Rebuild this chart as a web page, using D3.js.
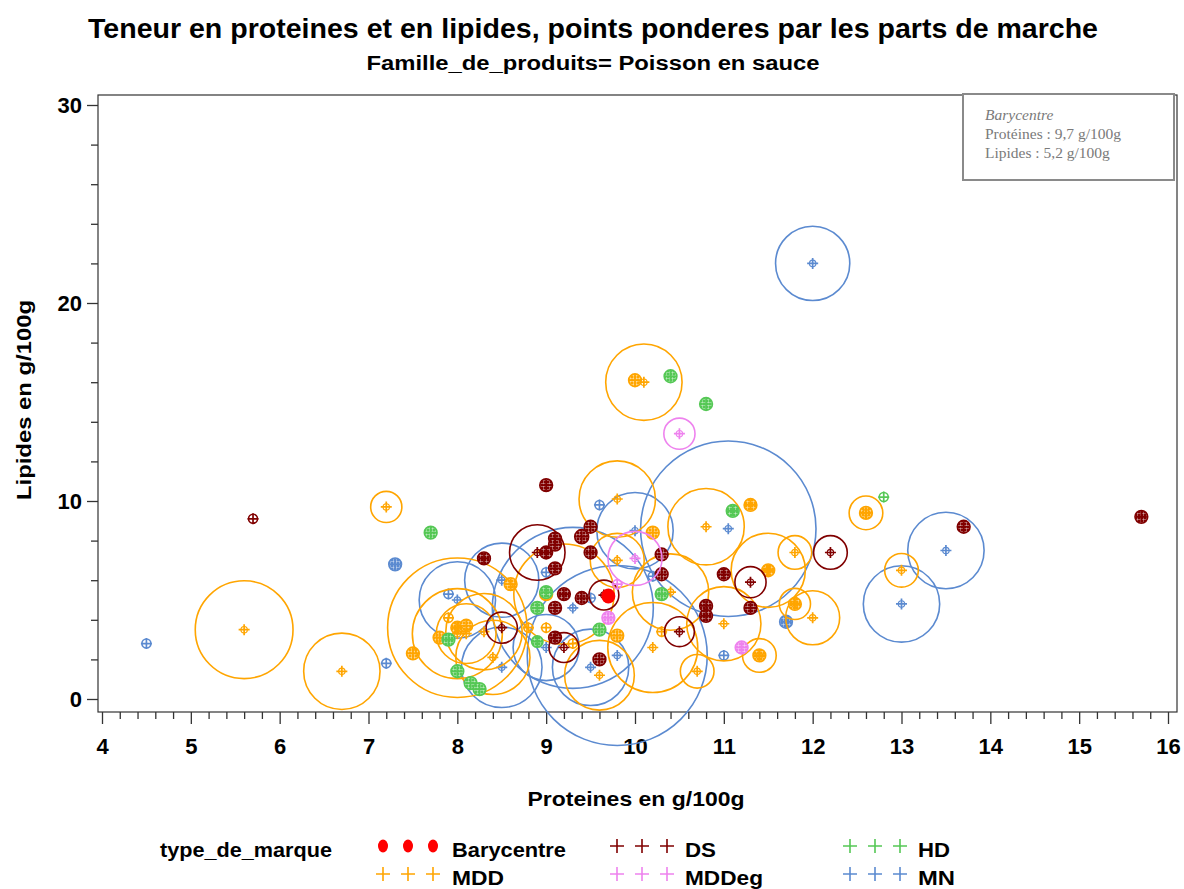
<!DOCTYPE html>
<html>
<head>
<meta charset="utf-8">
<script src="https://cdn.jsdelivr.net/npm/d3@7"></script>
<style>
  body { margin: 0; background: #fff; }
  svg { display: block; }
  text { font-family: "Liberation Sans", Arial, sans-serif; }
</style>
</head>
<body>
<svg id="chart" width="1184" height="889"></svg>
<script>
// Each point: [protéines g/100g, lipides g/100g, part de marché %]
const ptsMN = [
  [4.5, 2.8, 0.04], [7.2, 1.8, 0.04], [7.3, 6.8, 0.1], [12.0, 22.0, 3.4],
  [11.05, 8.6, 19], [13.5, 7.5, 3.6], [13.0, 4.8, 3.6], [11.7, 3.9, 0.1],
  [11.0, 2.2, 0.04], [9.6, 9.8, 0.04], [10.0, 8.5, 3.6], [10.2, 6.2, 0.04],
  [8.5, 6.0, 3.4], [9.0, 6.4, 0.04], [7.9, 5.3, 0.04], [8.0, 5.0, 3.6],
  [9.5, 5.1, 0.04], [9.3, 4.6, 16], [9.0, 2.6, 2.7], [9.8, 2.2, 20],
  [9.5, 1.6, 3.6], [8.5, 1.6, 4.0]
];
const ptsMDD = [
  [5.6, 3.5, 5.9], [6.7, 1.4, 3.6], [7.2, 9.7, 0.6], [7.5, 2.3, 0.1],
  [10.0, 16.1, 0.1], [10.1, 16.0, 3.6], [12.6, 9.4, 0.1], [12.6, 9.4, 0.7],
  [13.0, 6.5, 0.7], [12.0, 4.1, 1.8], [11.8, 4.8, 0.1], [11.8, 4.8, 0.6],
  [11.8, 7.4, 0.7], [11.5, 6.5, 0.1], [11.5, 6.5, 3.4], [11.3, 9.8, 0.1],
  [10.8, 8.7, 3.6], [11.0, 3.8, 3.4], [11.4, 2.2, 0.1], [11.4, 2.2, 0.7],
  [10.7, 1.4, 0.7], [9.8, 10.1, 3.6], [10.2, 8.4, 0.1], [9.8, 7.0, 1.8],
  [10.4, 5.4, 3.6], [8.6, 5.8, 0.1], [9.2, 5.3, 6.2], [9.0, 5.3, 0.1],
  [7.9, 4.1, 0.04], [8.0, 3.6, 12], [8.0, 3.6, 0.1], [8.1, 3.7, 0.1],
  [7.8, 3.1, 0.1], [8.0, 3.3, 5.0], [8.1, 3.3, 2.2], [8.8, 3.6, 0.04],
  [9.0, 3.6, 0.04], [9.3, 2.8, 0.04], [9.8, 3.2, 0.1], [10.3, 3.4, 0.04],
  [10.2, 2.6, 5.0], [8.4, 2.1, 3.4], [9.6, 1.2, 3.0], [8.3, 3.4, 3.6]
];
const ptsDS = [
  [5.7, 9.1, 0.04], [9.0, 10.8, 0.1], [9.4, 8.2, 0.12], [9.5, 8.7, 0.1],
  [8.9, 7.4, 1.9], [9.0, 7.4, 0.1], [9.1, 8.1, 0.1], [9.1, 7.8, 0.1],
  [9.1, 6.6, 0.1], [8.3, 7.1, 0.1], [9.5, 7.4, 0.1], [10.3, 7.3, 0.1],
  [10.3, 6.3, 0.1], [9.65, 5.25, 0.55], [9.4, 5.1, 0.1], [9.2, 5.3, 0.1],
  [9.1, 4.6, 0.1], [8.5, 3.6, 0.6], [9.1, 3.1, 0.1], [9.2, 2.6, 0.55],
  [9.6, 2.0, 0.1], [10.5, 3.4, 0.55], [10.8, 4.7, 0.1], [10.8, 4.2, 0.1],
  [11.0, 6.3, 0.1], [11.3, 5.9, 0.6], [11.3, 4.6, 0.1], [12.2, 7.4, 0.7],
  [13.7, 8.7, 0.1], [15.7, 9.2, 0.1]
];
const ptsHD = [
  [7.7, 8.4, 0.1], [10.4, 16.3, 0.1], [10.8, 14.9, 0.1], [12.8, 10.2, 0.04],
  [11.1, 9.5, 0.1], [10.3, 5.3, 0.1], [9.0, 5.4, 0.1], [8.9, 4.6, 0.1],
  [9.6, 3.5, 0.1], [7.9, 3.0, 0.1], [8.9, 2.9, 0.08], [8.0, 1.4, 0.1],
  [8.15, 0.8, 0.1], [8.25, 0.5, 0.1]
];
const ptsMDDeg = [
  [10.5, 13.4, 0.6], [10.0, 7.1, 1.8], [9.7, 4.1, 0.1], [11.2, 2.6, 0.1], [9.8, 5.8, 0.04]
];
const barycentre = [[9.7, 5.2]];

const categories = ["Barycentre", "DS", "HD", "MDD", "MDDeg", "MN"];
const xTickValues = d3.range(4, 17, 1);
const yTickValues = [0, 10, 20, 30];
const noteLines = ["Barycentre", "Protéines : 9,7 g/100g", "Lipides : 5,2 g/100g"];

const colors = {
  Barycentre: "#FF0000", DS: "#800000", HD: "#55C855",
  MDD: "#FFA500", MDDeg: "#EE82EE", MN: "#5B8AD0"
};

const svg = d3.select("#chart");
const x = d3.scaleLinear().domain([4, 16]).range([102, 1168]);
const y = d3.scaleLinear().domain([0, 30]).range([699, 105]);
const r = d3.scaleSqrt().domain([0, 20]).range([0, 90]);

// hatched fill for the small bubbles
const defs = svg.append("defs");
Object.entries(colors).forEach(([k, c]) => {
  const p = defs.append("pattern").attr("id", "hatch-" + k)
    .attr("width", 3).attr("height", 3).attr("patternUnits", "userSpaceOnUse");
  p.append("rect").attr("width", 3).attr("height", 3).attr("fill", c);
  p.append("path").attr("d", "M0,0.5H3M0.5,0V3")
    .attr("stroke", "#fff").attr("stroke-opacity", 0.45).attr("stroke-width", 0.8);
});

// Titles
svg.append("text").attr("x", 593).attr("y", 38).attr("text-anchor", "middle")
  .attr("font-size", 28).attr("font-weight", "bold")
  .attr("textLength", 1010).attr("lengthAdjust", "spacingAndGlyphs")
  .text("Teneur en proteines et en lipides, points ponderes par les parts de marche");
svg.append("text").attr("x", 593).attr("y", 70).attr("text-anchor", "middle")
  .attr("font-size", 20).attr("font-weight", "bold")
  .attr("textLength", 453).attr("lengthAdjust", "spacingAndGlyphs")
  .text("Famille_de_produits= Poisson en sauce");

// Plot frame
svg.append("rect").attr("x", 98).attr("y", 95).attr("width", 1079).attr("height", 617)
  .attr("fill", "none").attr("stroke", "#333").attr("stroke-width", 1.2);

// X axis
const xAxisG = svg.append("g").attr("transform", "translate(0,712)");
xAxisG.call(d3.axisBottom(x).tickValues(d3.range(4, 16.01, 0.2).filter((v, i) => i % 5 !== 0))
  .tickSize(7).tickFormat(""));
xAxisG.call(g => g.select(".domain").remove());
const xMajor = svg.append("g").attr("transform", "translate(0,712)");
xMajor.call(d3.axisBottom(x).tickValues(xTickValues).tickSize(12).tickPadding(14).tickFormat(d3.format("d")));
xMajor.select(".domain").remove();
[xAxisG, xMajor].forEach(g => g.selectAll("line").attr("stroke", "#333").attr("stroke-width", 1.3));
xMajor.selectAll("text").attr("font-size", 22).attr("font-weight", "bold").attr("fill", "#000")
  .attr("font-family", "'Liberation Sans', Arial, sans-serif");

// Y axis
const yMinor = svg.append("g").attr("transform", "translate(98,0)");
yMinor.call(d3.axisLeft(y).tickValues(d3.range(0, 30.01, 2).filter(v => v % 10 !== 0)).tickSize(7).tickFormat(""));
yMinor.select(".domain").remove();
const yMajor = svg.append("g").attr("transform", "translate(98,0)");
yMajor.call(d3.axisLeft(y).tickValues(yTickValues).tickSize(11).tickPadding(5).tickFormat(d3.format("d")));
yMajor.select(".domain").remove();
[yMinor, yMajor].forEach(g => g.selectAll("line").attr("stroke", "#333").attr("stroke-width", 1.3));
yMajor.selectAll("text").attr("font-size", 22).attr("font-weight", "bold").attr("fill", "#000")
  .attr("font-family", "'Liberation Sans', Arial, sans-serif");

// Axis titles
svg.append("text").attr("x", 636).attr("y", 806).attr("text-anchor", "middle")
  .attr("font-size", 21).attr("font-weight", "bold")
  .attr("textLength", 217).attr("lengthAdjust", "spacingAndGlyphs")
  .text("Proteines en g/100g");
svg.append("text").attr("transform", "translate(31,400) rotate(-90)").attr("text-anchor", "middle")
  .attr("font-size", 21).attr("font-weight", "bold")
  .attr("textLength", 200).attr("lengthAdjust", "spacingAndGlyphs")
  .text("Lipides en g/100g");

// Bubbles: circle sized by market share, plus a small ringed cross marker at the centre
const plusPath = s => `M${-s},0H${s}M0,${-s}V${s}`;
const series = [["MN", ptsMN], ["MDD", ptsMDD], ["DS", ptsDS], ["HD", ptsHD], ["MDDeg", ptsMDDeg]];
const plot = svg.append("g");
series.forEach(([name, pts]) => {
  const g = plot.append("g");
  g.selectAll("circle.bubble").data(pts).join("circle").attr("class", "bubble")
    .attr("cx", d => x(d[0])).attr("cy", d => y(d[1]))
    .attr("r", d => Math.max(4.5, r(d[2])))
    .attr("fill", d => r(d[2]) >= 5 && r(d[2]) < 9 ? `url(#hatch-${name})` : "none")
    .attr("stroke", colors[name]).attr("stroke-width", 1.6);
  g.selectAll("circle.ring").data(pts.filter(d => r(d[2]) >= 9)).join("circle").attr("class", "ring")
    .attr("cx", d => x(d[0])).attr("cy", d => y(d[1])).attr("r", 3.2)
    .attr("fill", "none").attr("stroke", colors[name]).attr("stroke-width", 1.2);
  g.selectAll("path").data(pts).join("path")
    .attr("transform", d => `translate(${x(d[0])},${y(d[1])})`)
    .attr("d", plusPath(5.5))
    .attr("stroke", colors[name]).attr("stroke-width", 1.7);
});
plot.selectAll("ellipse.bary").data(barycentre).join("ellipse").attr("class", "bary")
  .attr("cx", d => x(d[0])).attr("cy", d => y(d[1])).attr("rx", 7).attr("ry", 7.5)
  .attr("fill", colors.Barycentre);

// Note box
const note = svg.append("g");
note.append("rect").attr("x", 963).attr("y", 94).attr("width", 211).attr("height", 86)
  .attr("fill", "#fff").attr("stroke", "#8a8a8a").attr("stroke-width", 2);
note.selectAll("text").data(noteLines).join("text")
  .attr("x", 985).attr("y", (d, i) => 120 + i * 19)
  .style("font-family", "'Liberation Serif', 'DejaVu Serif', serif")
  .attr("font-size", 15.5).attr("fill", "#7a7a7a")
  .attr("font-style", (d, i) => i === 0 ? "italic" : "normal")
  .text(d => d);

// Legend
const legend = svg.append("g");
legend.append("text").attr("x", 160).attr("y", 857).attr("font-size", 21).attr("font-weight", "bold")
  .attr("textLength", 172).attr("lengthAdjust", "spacingAndGlyphs").text("type_de_marque");
const legendPos = {
  Barycentre: [383, 848, 452, 114], DS: [617, 848, 685, 31], HD: [850, 848, 918, 32],
  MDD: [383, 876, 452, 52], MDDeg: [617, 876, 685, 78], MN: [850, 876, 918, 37]
};
categories.forEach(cat => {
  const [mx, my, tx, tw] = legendPos[cat];
  const g = legend.append("g");
  [0, 25, 50].forEach(dx => {
    if (cat === "Barycentre") {
      g.append("ellipse").attr("cx", mx + dx).attr("cy", my - 2).attr("rx", 5).attr("ry", 6.5)
        .attr("fill", colors[cat]);
    } else {
      g.append("path").attr("transform", `translate(${mx + dx},${my - 2})`)
        .attr("d", plusPath(7)).attr("stroke", colors[cat]).attr("stroke-width", 1.6);
    }
  });
  g.append("text").attr("x", tx).attr("y", my + 9).attr("font-size", 21).attr("font-weight", "bold")
    .attr("textLength", tw).attr("lengthAdjust", "spacingAndGlyphs").text(cat);
});
</script>
</body>
</html>
